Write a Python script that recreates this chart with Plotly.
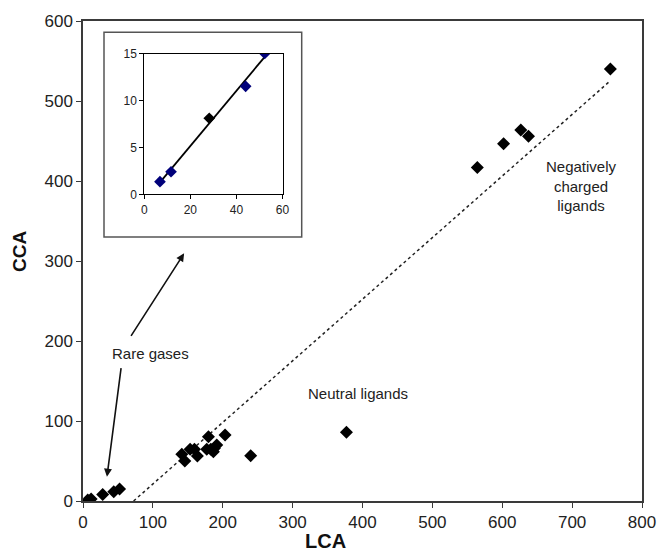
import numpy as np
import plotly.graph_objects as go

# Rare gases (LCA, CCA)
rare_lca = [6.8, 11.6, 28.2, 44.0, 52.3]
rare_cca = [1.35, 2.4, 8.1, 11.5, 15.0]
rare_colors = ["#00007a", "#00007a", "#000000", "#00007a", "#00007a"]

# Neutral ligands
neutral_lca = [141.4, 145.7, 153.3, 159.5, 163.7, 179.5, 177.1, 182.9, 186.6, 188.0, 191.4, 203.3, 240.0, 377.0]
neutral_cca = [58.3, 50.0, 64.6, 64.6, 56.3, 80.4, 64.6, 64.6, 61.7, 65.8, 70.0, 82.5, 56.7, 85.8]

# Negatively charged ligands
neg_lca = [564.3, 601.9, 626.6, 637.6, 754.7]
neg_cca = [417.0, 446.7, 463.8, 455.8, 540.0]

# Dotted reference line endpoints
ref_lca = [72.4, 753.0]
ref_cca = [0.0, 524.0]

x_ticks = [0, 100, 200, 300, 400, 500, 600, 700, 800]
y_ticks = [0, 100, 200, 300, 400, 500, 600]
inset_x_ticks = [0, 20, 40, 60]
inset_y_ticks = [0, 5, 10, 15]

FONT = "Liberation Sans, Arial, sans-serif"
AXC = "#3a3a3a"

fig = go.Figure()

fig.add_trace(go.Scatter(x=ref_lca, y=ref_cca, mode="lines",
                         line=dict(color="#222", width=1.5, dash="dot"),
                         showlegend=False, hoverinfo="skip"))
all_lca = rare_lca + neutral_lca + neg_lca
all_cca = rare_cca + neutral_cca + neg_cca
fig.add_trace(go.Scatter(x=all_lca, y=all_cca, mode="markers",
                         marker=dict(symbol="diamond", size=10, color="black"),
                         showlegend=False))

# Inset
coef = np.polyfit(rare_lca, rare_cca, 1)
fx = np.array([min(rare_lca), max(rare_lca)])
fig.add_trace(go.Scatter(x=fx, y=np.polyval(coef, fx), mode="lines",
                         line=dict(color="black", width=1.8),
                         xaxis="x2", yaxis="y2", showlegend=False, hoverinfo="skip"))
fig.add_trace(go.Scatter(x=rare_lca, y=rare_cca, mode="markers",
                         marker=dict(symbol="diamond", size=9, color=rare_colors),
                         xaxis="x2", yaxis="y2", showlegend=False))

W, H = 657, 551
L, R, T, B = 83, 15, 21, 50
pw, ph = W - L - R, H - T - B

def px(x):
    return (x - L) / pw

def py(y):
    return (H - B - y) / ph

fig.update_layout(
    width=W, height=H, autosize=False,
    margin=dict(l=L, r=R, t=T, b=B, autoexpand=False),
    paper_bgcolor="white", plot_bgcolor="white",
    font=dict(family=FONT, color="#222"),
    xaxis=dict(range=[0, 800], tickvals=x_ticks, showgrid=False, zeroline=False,
               showline=True, linecolor=AXC, linewidth=1.5, mirror=True, automargin=False,
               ticks="outside", ticklen=5, tickcolor=AXC, tickfont=dict(size=17)),
    yaxis=dict(range=[0, 600], tickvals=y_ticks, showgrid=False, zeroline=False,
               showline=True, linecolor=AXC, linewidth=1.5, mirror=True, automargin=False,
               ticks="outside", ticklen=5, tickcolor=AXC, tickfont=dict(size=17)),
    xaxis2=dict(domain=[px(144.3), px(282.5)], anchor="y2", range=[0, 60],
                tickvals=inset_x_ticks, showgrid=False, zeroline=False, automargin=False,
                showline=True, linecolor="black", linewidth=1, mirror=True,
                ticks="outside", ticklen=4, tickcolor="black", tickfont=dict(size=12)),
    yaxis2=dict(domain=[py(194.3), py(53.5)], anchor="x2", range=[0, 15],
                tickvals=inset_y_ticks, showgrid=False, zeroline=False, automargin=False,
                showline=True, linecolor="black", linewidth=1, mirror=True,
                ticks="outside", ticklen=4, tickcolor="black", tickfont=dict(size=12)),
    shapes=[dict(type="rect", xref="paper", yref="paper",
                 x0=px(104), x1=px(301.7), y0=py(237), y1=py(32.3),
                 line=dict(color="#555", width=1.5), fillcolor="rgba(0,0,0,0)", layer="below")],
)

ann = [
    dict(text="<b>LCA</b>", xref="paper", yref="paper", x=px(325), y=py(541),
         xanchor="center", yanchor="middle",
         showarrow=False, font=dict(size=20, color="#111")),
    dict(text="<b>CCA</b>", xref="paper", yref="paper", x=px(20), y=py(252),
         xanchor="center", yanchor="middle",
         showarrow=False, textangle=-90, font=dict(size=19, color="#111")),
    dict(text="Rare gases", x=96.9, y=183.8, showarrow=False, font=dict(size=15),
         xanchor="center", yanchor="middle"),
    dict(text="Neutral ligands", x=393, y=133.8, showarrow=False, font=dict(size=15),
         xanchor="center", yanchor="middle"),
    dict(text="Negatively<br>charged<br>ligands", x=713, y=394, showarrow=False,
         xanchor="center", yanchor="middle", font=dict(size=15)),
    dict(text="", x=144.7, y=309.6, ax=-54, ay=84, showarrow=True,
         arrowhead=2, arrowsize=1, arrowwidth=1.6, arrowcolor="#111"),
    dict(text="", x=34.3, y=30.4, ax=14.3, ay=-110, showarrow=True,
         arrowhead=2, arrowsize=1, arrowwidth=1.6, arrowcolor="#111"),
]
fig.update_layout(annotations=ann)

fig.write_html("out.html",
               config=dict(displayModeBar=False, responsive=False),
               post_script="document.body.style.margin='0';document.body.style.padding='0';"
                           "document.body.style.overflow='hidden';")
